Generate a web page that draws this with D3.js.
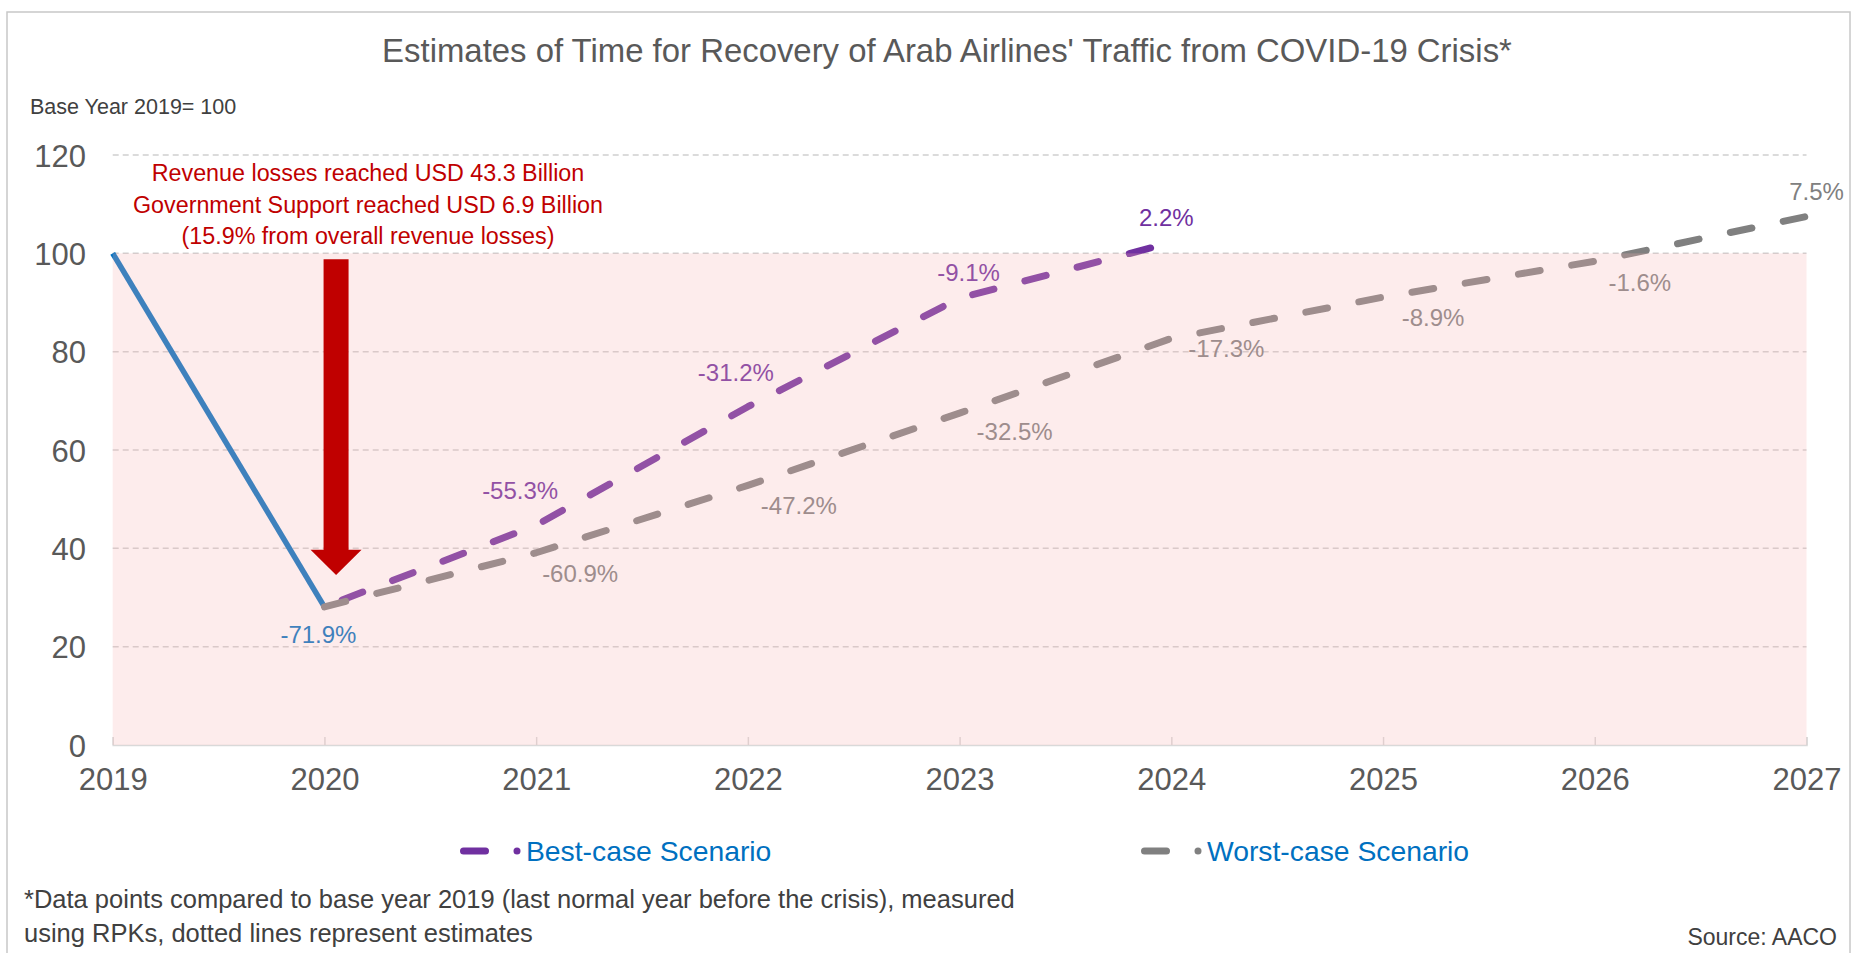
<!DOCTYPE html>
<html><head><meta charset="utf-8">
<script src="https://cdn.jsdelivr.net/npm/d3@7"></script>
<style>body{margin:0;background:#fff;overflow:hidden}</style>
</head><body><svg id="c" width="1860" height="953"></svg>
<script>
// ---------- data ----------
const years = [2019, 2020, 2021, 2022, 2023, 2024, 2025, 2026, 2027];
const yTicks = [0, 20, 40, 60, 80, 100, 120];
const actualYears = [2019, 2020];
const actualValues = [100, 28.1];
const actualLabels = [null, "-71.9%"];
const bestYears = [2020, 2021, 2022, 2023, 2024];
const bestValues = [28.1, 44.7, 68.8, 90.9, 102.2];
const bestLabels = [null, "-55.3%", "-31.2%", "-9.1%", "2.2%"];
const worstYears = [2020, 2021, 2022, 2023, 2024, 2025, 2026, 2027];
const worstValues = [28.1, 39.1, 52.8, 67.5, 82.7, 91.1, 98.4, 107.5];
const worstLabels = [null, "-60.9%", "-47.2%", "-32.5%", "-17.3%", "-8.9%", "-1.6%", "7.5%"];
const seriesNames = ["Best-case Scenario", "Worst-case Scenario"];
const baseValue = 100;
const titleText = "Estimates of Time for Recovery of Arab Airlines' Traffic from COVID-19 Crisis*";
const unitText = "Base Year 2019= 100";
const annotationLines = ["Revenue losses reached USD 43.3 Billion",
  "Government Support reached USD 6.9 Billion",
  "(15.9% from overall revenue losses)"];
const footnoteLines = ["*Data points compared to base year 2019 (last normal year before the crisis), measured",
  "using RPKs, dotted lines represent estimates"];
const sourceText = "Source: AACO";
// arrow annotation (in data units): year, top value, head base value, tip value
const arrowYear = 2020.055, arrowTop = 98.8, arrowHeadBase = 39.7, arrowTip = 34.6;

// ---------- layout (label offsets in px, separate from data) ----------
const actualOffsets = [null, [-6, 28]];
const bestOffsets = [null, [-16, -35], [-12, -34], [9, -26], [-5, -25]];
const worstOffsets = [null, [44, 21], [51, 20], [55, 18], [55, 10], [50, 20], [45, 21], [10, -25]];

const C = { blue: "#0070C0", purple: "#7030A0", gray: "#808080", red: "#C00000", text: "#595959", grid: "#D0D0D0" };
const LF = "'Liberation Sans', Arial, sans-serif";

const svg = d3.select("#c");
const x = d3.scaleLinear().domain([2019, 2027]).range([112.7, 1806.5]);
const y = d3.scaleLinear().domain([0, 120]).range([745, 155]);

// border
svg.append("rect").attr("x", 7).attr("y", 12).attr("width", 1843).attr("height", 960)
  .attr("fill", "#fff").attr("stroke", "#C8C8C8").attr("stroke-width", 1.5);

// title
svg.append("text").attr("x", 947).attr("y", 50).attr("text-anchor", "middle")
  .attr("dominant-baseline", "central").style("font-family", LF).style("font-size", "32.9px")
  .attr("fill", C.text).text(titleText);
svg.append("text").attr("x", 30).attr("y", 107).attr("dominant-baseline", "central")
  .style("font-family", LF).style("font-size", "21.5px").attr("fill", "#404040").text(unitText);

// gridlines
svg.append("g").selectAll("line").data(yTicks.filter(d => d > 0)).join("line")
  .attr("x1", x(2019)).attr("x2", x(2027)).attr("y1", d => y(d)).attr("y2", d => y(d))
  .attr("stroke", C.grid).attr("stroke-width", 1.5).attr("stroke-dasharray", "6 4");

// x axis
const xAxis = d3.axisBottom(x).tickValues(years).tickFormat(d3.format("d")).tickSize(-8).tickPadding(22);
const gx = svg.append("g").attr("transform", `translate(0,${y(0)})`).call(xAxis);
gx.select(".domain").attr("stroke", "#D9D9D9").attr("stroke-width", 1.5);
gx.selectAll(".tick line").attr("stroke", "#D9D9D9").attr("stroke-width", 1.5);
gx.selectAll(".tick text").attr("fill", C.text).style("font-family", LF).style("font-size", "31px")
  .attr("dy", "0.75em");

// y axis labels
const yAxis = d3.axisLeft(y).tickValues(yTicks).tickSize(0).tickPadding(0);
const gy = svg.append("g").attr("transform", `translate(86,0)`).call(yAxis);
gy.select(".domain").remove();
gy.selectAll(".tick text").attr("fill", C.text).style("font-family", LF).style("font-size", "31px")
  .attr("dy", "0.36em");

// lines
function drawLine(xs, vs, color, dash, offset, width) {
  const pts = xs.map((d, i) => [d, vs[i]]);
  svg.append("path").datum(pts)
    .attr("d", d3.line().x(d => x(d[0])).y(d => y(d[1])))
    .attr("fill", "none").attr("stroke", color).attr("stroke-width", width)
    .attr("stroke-linecap", dash ? "round" : "butt").attr("stroke-linejoin", "round")
    .attr("stroke-dasharray", dash).attr("stroke-dashoffset", offset);
}
drawLine(actualYears, actualValues, C.blue, null, 0, 5.5);
drawLine(bestYears, bestValues, C.purple, "22 32", 35, 7);
drawLine(worstYears, worstValues, C.gray, "22 32", 0, 7);

// labels
function drawLabels(xs, vs, labels, offs, color) {
  const rows = xs.map((d, i) => ({ yr: d, v: vs[i], t: labels[i], o: offs[i] })).filter(r => r.t);
  svg.append("g").selectAll("text").data(rows).join("text")
    .attr("x", r => x(r.yr) + r.o[0]).attr("y", r => y(r.v) + r.o[1])
    .attr("text-anchor", "middle").attr("dominant-baseline", "central")
    .style("font-family", LF).style("font-size", "24px").attr("fill", color).text(r => r.t);
}
drawLabels(actualYears, actualValues, actualLabels, actualOffsets, C.blue);
drawLabels(bestYears, bestValues, bestLabels, bestOffsets, C.purple);
drawLabels(worstYears, worstValues, worstLabels, worstOffsets, C.gray);

// pink translucent overlay below base value
svg.append("rect").attr("x", x(2019)).attr("y", y(baseValue))
  .attr("width", x(2027) - x(2019)).attr("height", y(0) - y(baseValue))
  .attr("fill", "#F7B3B3").attr("fill-opacity", 0.25);

// arrow
const ax = x(arrowYear), sw = 12.5, hw = 25.5;
svg.append("path")
  .attr("d", `M${ax - sw},${y(arrowTop)} L${ax + sw},${y(arrowTop)} L${ax + sw},${y(arrowHeadBase)} L${ax + hw},${y(arrowHeadBase)} L${ax},${y(arrowTip)} L${ax - hw},${y(arrowHeadBase)} L${ax - sw},${y(arrowHeadBase)} Z`)
  .attr("fill", C.red);

// annotation text
svg.append("g").selectAll("text").data(annotationLines).join("text")
  .attr("x", 368).attr("y", (d, i) => 173 + i * 31.5).attr("text-anchor", "middle")
  .attr("dominant-baseline", "central").style("font-family", LF).style("font-size", "23.3px")
  .attr("fill", C.red).text(d => d);

// legend
const legendItems = [
  { name: seriesNames[0], color: C.purple, x0: 460 },
  { name: seriesNames[1], color: C.gray, x0: 1141 }
];
const lg = svg.append("g").selectAll("g").data(legendItems).join("g")
  .attr("transform", d => `translate(${d.x0},851)`);
lg.append("line").attr("x1", 3.5).attr("x2", 25.5).attr("y1", 0).attr("y2", 0)
  .attr("stroke", d => d.color).attr("stroke-width", 7).attr("stroke-linecap", "round");
lg.append("circle").attr("cx", 57).attr("cy", 0).attr("r", 3.5).attr("fill", d => d.color);
lg.append("text").attr("x", 66).attr("y", 0).attr("dominant-baseline", "central")
  .style("font-family", LF).style("font-size", "28.3px").attr("fill", C.blue).text(d => d.name);

// footnote
svg.append("g").selectAll("text").data(footnoteLines).join("text")
  .attr("x", 24).attr("y", (d, i) => 899 + i * 34).attr("dominant-baseline", "central")
  .style("font-family", LF).style("font-size", "25.5px").attr("fill", "#404040").text(d => d);
svg.append("text").attr("x", 1837).attr("y", 937).attr("text-anchor", "end")
  .attr("dominant-baseline", "central").style("font-family", LF).style("font-size", "23px")
  .attr("fill", "#404040").text(sourceText);
</script></body></html>
